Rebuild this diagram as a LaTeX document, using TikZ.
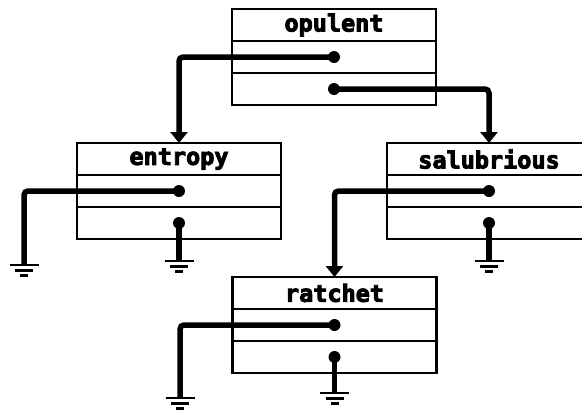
\documentclass[tikz,border=0pt]{standalone}
\usepackage{fontspec}
\newfontfamily\recfont{DejaVu Sans Mono}
\usetikzlibrary{arrows.meta}
\newcommand\heavytext[1]{\special{pdf:literal direct 2 Tr 0.9 w}#1\special{pdf:literal direct 0 Tr}}
\tikzset{
  row/.style={draw, line width=2.3pt, minimum width=204pt, minimum height=32pt,
    inner sep=0pt, outer sep=0pt, anchor=north},
  titlerow/.style={row, font=\recfont\bfseries\fontsize{23.5}{24}\selectfont},
  wire/.style={line width=5.5pt, rounded corners=4pt},
  arrowwire/.style={wire, -{Triangle[width=17pt,length=11pt]}},
  pics/groundsym/.style={code={
    \draw[line width=2.3pt] (-14.5,0) -- (14.5,0);
    \draw[line width=2.3pt] (-9,5.5) -- (9,5.5);
    \draw[line width=3pt] (-4,10.5) -- (4,10.5);
  }},
}
\begin{document}
\begin{tikzpicture}[x=1pt,y=-1pt]
\useasboundingbox (0,0) rectangle (582,410);
\clip (0,0) rectangle (582,410);
% records
\node[titlerow] (op) at (334,9) {\heavytext{opulent}};
\node[row] (op1) at (op.south) {};
\node[row] (op2) at (op1.south) {};
\node[titlerow] (en) at (179,143) {\heavytext{entropy}};
\node[row] (en1) at (en.south) {};
\node[row] (en2) at (en1.south) {};
\node[titlerow] (sa) at (489,143) {\heavytext{salubrious}};
\node[row] (sa1) at (sa.south) {};
\node[row] (sa2) at (sa1.south) {};
\node[titlerow] (ra) at (334.5,277) {\heavytext{ratchet}};
\node[row] (ra1) at (ra.south) {};
\node[row] (ra2) at (ra1.south) {};
% ground coordinates
\coordinate (g1) at (24,265);
\coordinate (g2) at (179,261);
\coordinate (g3) at (489,261);
\coordinate (g4) at (180,398);
\coordinate (g5) at (334.5,393);
% connectors
\draw[arrowwire] (op1.center) -| (en.north);
\draw[arrowwire] (op2.center) -| (sa.north);
\draw[arrowwire] (sa1.center) -| (ra.north);
\draw[wire] (en1.center) -| (g1);
\draw[wire] (en2.center) -- (g2);
\draw[wire] (sa2.center) -- (g3);
\draw[wire] (ra1.center) -| (g4);
\draw[wire] (ra2.center) -- (g5);
% dots
\foreach \n in {op1,op2,en1,en2,sa1,sa2,ra1,ra2}
  \fill (\n.center) circle (6pt);
% grounds
\foreach \g in {g1,g2,g3,g4,g5}
  \pic at (\g) {groundsym};
\end{tikzpicture}
\end{document}
